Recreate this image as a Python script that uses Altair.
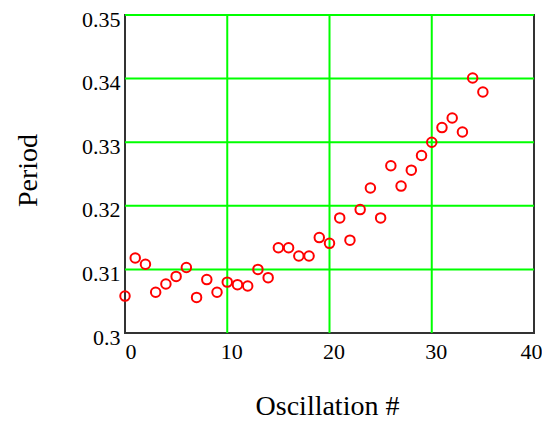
import altair as alt
import pandas as pd

oscillation = list(range(36))
period = [0.3058, 0.3118, 0.3108, 0.3064, 0.3077, 0.3089, 0.3103, 0.3056, 0.3084, 0.3064,
          0.3080, 0.3076, 0.3074, 0.3100, 0.3087, 0.3134, 0.3134, 0.3121, 0.3121, 0.3150,
          0.3141, 0.3181, 0.3146, 0.3194, 0.3228, 0.3181, 0.3263, 0.3231, 0.3256, 0.3279,
          0.3300, 0.3323, 0.3338, 0.3316, 0.3401, 0.3379]
x_ticks = [0, 10, 20, 30, 40]
y_ticks = [0.30, 0.31, 0.32, 0.33, 0.34, 0.35]
x_grid = [10, 20, 30]
y_grid = [0.31, 0.32, 0.33, 0.34, 0.35]

df = pd.DataFrame({"osc": oscillation, "period": period})
gx = pd.DataFrame({"osc": x_grid})
gy = pd.DataFrame({"period": y_grid})

FONT = "Liberation Serif"
xscale = alt.Scale(domain=[0, 40], nice=False, zero=False)
yscale = alt.Scale(domain=[0.30, 0.35], nice=False, zero=False)

x_axis = alt.Axis(values=x_ticks, title="Oscillation #", grid=False,
                  domain=False, ticks=False, labelFont=FONT, labelFontSize=22,
                  labelColor="#000000", labelPadding=8, labelOffset=4,
                  labelFlush=True, labelFlushOffset=4, labelOverlap=False,
                  titleFont=FONT, titleFontSize=28, titleFontWeight="normal",
                  titleColor="#000000", titleX=202, titleY=81,
                  titleBaseline="alphabetic", titleAlign="center")
y_axis = alt.Axis(values=y_ticks, format="~g", title="Period", grid=False,
                  domain=False, ticks=False, labelFont=FONT, labelFontSize=22,
                  labelColor="#000000", labelPadding=5, labelOffset=4,
                  labelFlush=False, labelOverlap=False,
                  titleFont=FONT, titleFontSize=28, titleFontWeight="normal",
                  titleColor="#000000", titleAngle=270, titleX=-97, titleY=155,
                  titleBaseline="middle", titleAlign="center")

vgrid = alt.Chart(gx).mark_rule(color="#00ff00", strokeWidth=2).encode(
    x=alt.X("osc:Q", scale=xscale, axis=x_axis, title="Oscillation #")
)
hgrid = alt.Chart(gy).mark_rule(color="#00ff00", strokeWidth=2).encode(
    y=alt.Y("period:Q", scale=yscale, axis=y_axis, title="Period")
)

points = alt.Chart(df).mark_point(
    shape="circle", filled=False, color="#ff0000", size=90, strokeWidth=2,
    opacity=1, clip=False
).encode(
    x=alt.X("osc:Q", scale=xscale, axis=x_axis, title="Oscillation #"),
    y=alt.Y("period:Q", scale=yscale, axis=y_axis, title="Period"),
)

chart = alt.layer(vgrid, hgrid, points).properties(
    width=409, height=318,
    background="#ffffff",
    autosize=alt.AutoSizeParams(type="none"),
    padding={"left": 117, "top": 7, "right": 8, "bottom": 87},
).configure_view(
    stroke="#333333", strokeWidth=2
)

chart.save("out.html", embed_options={"renderer": "svg", "actions": False})
